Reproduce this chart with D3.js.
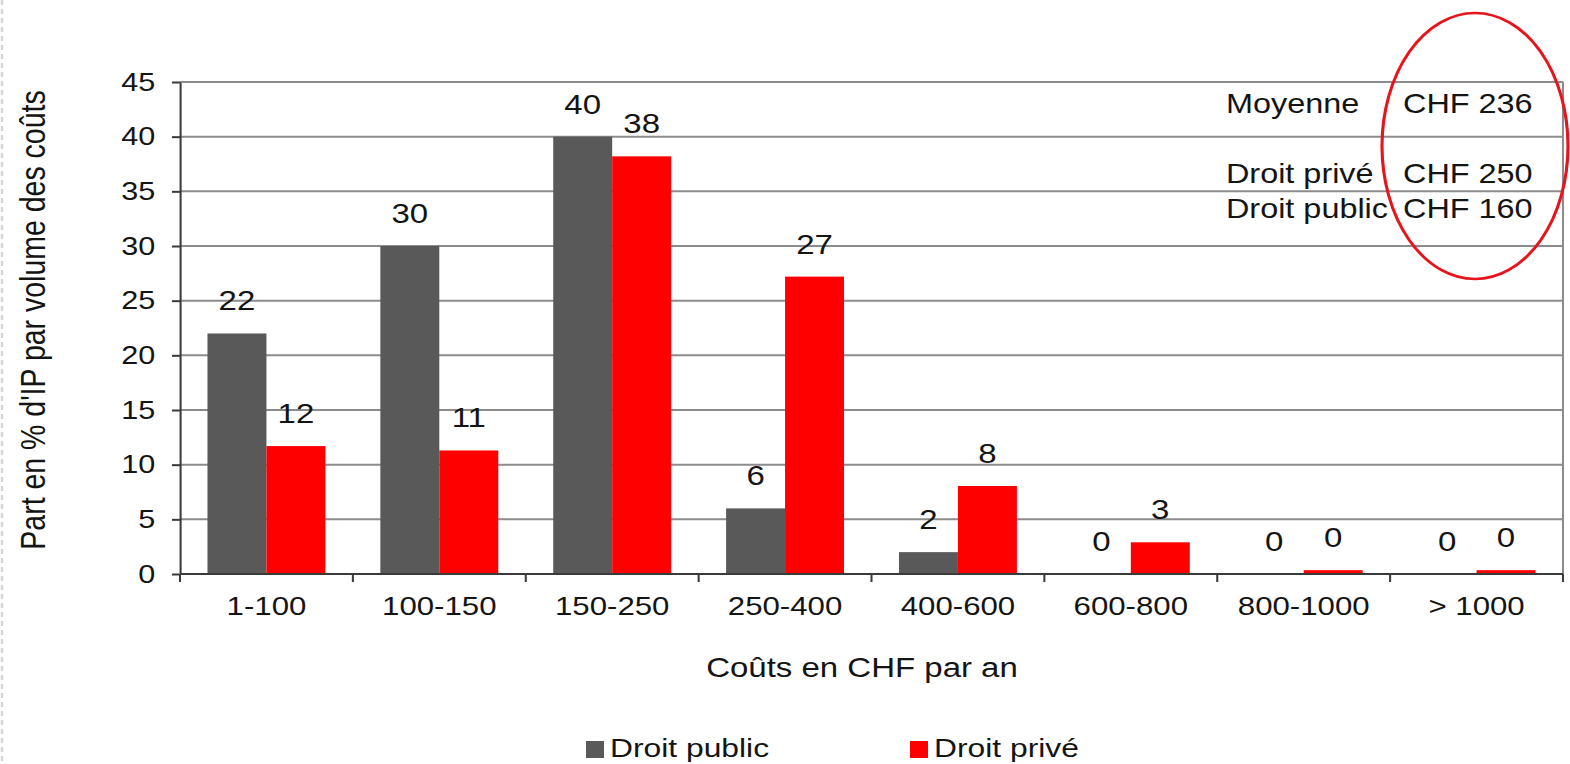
<!DOCTYPE html>
<html>
<head>
<meta charset="utf-8">
<script src="https://cdn.jsdelivr.net/npm/d3@7"></script>
<style>
  html, body { margin: 0; padding: 0; background: #fff; }
  svg { display: block; font-family: "Liberation Sans", Arial, sans-serif; }
</style>
</head>
<body>
<svg id="chart"></svg>
<script>
// Cost classes (CHF per year)
const categories = ["1-100", "100-150", "150-250", "250-400", "400-600", "600-800", "800-1000", "> 1000"];
const series = ["Droit public", "Droit privé"];
// Share of IP per cost class, in %
const publicValues = [22, 30, 40, 6, 2, 0, 0, 0];
const privateValues = [11.7, 11.3, 38.2, 27.2, 8.05, 2.9, 0.35, 0.35];
const yTicks = [0, 5, 10, 15, 20, 25, 30, 35, 40, 45];
// Average cost summary
const summaryLabels = ["Moyenne", "Droit privé", "Droit public"];
const summaryValues = ["CHF 236", "CHF 250", "CHF 160"];
const seriesColors = ["#595959", "#ff0000"];

const WIDTH = 1570, HEIGHT = 764;
const SX = 1.2;                      // horizontal stretch of the whole drawing
const sx = v => v / SX;              // screen x -> drawing x
const INNER_W = WIDTH / SX;

const svg = d3.select("#chart")
  .attr("width", WIDTH)
  .attr("height", HEIGHT)
  .attr("viewBox", `0 0 ${INNER_W} ${HEIGHT}`)
  .attr("preserveAspectRatio", "none");

const textColor = "#141414";
const plot = { left: sx(180), right: sx(1563), top: 82, bottom: 574 };

const y = d3.scaleLinear().domain([0, 45]).range([plot.bottom, plot.top]);
const x0 = d3.scaleBand().domain(categories).range([plot.left, plot.right]).padding(0);
const x1 = d3.scaleBand().domain(series).range([0, x0.bandwidth()]).paddingInner(0).paddingOuter(0.466);

// page edge marker
svg.append("line")
  .attr("x1", sx(2)).attr("x2", sx(2)).attr("y1", 0).attr("y2", HEIGHT)
  .attr("stroke", "#d6d6d6").attr("stroke-width", 2).attr("stroke-dasharray", "5,4");

// horizontal gridlines
svg.append("g").selectAll("line")
  .data(yTicks.filter(t => t > 0))
  .join("line")
  .attr("x1", plot.left).attr("x2", plot.right)
  .attr("y1", d => y(d)).attr("y2", d => y(d))
  .attr("stroke", "#8c8c8c").attr("stroke-width", 2);

// right border of plot area
svg.append("line")
  .attr("x1", plot.right).attr("x2", plot.right)
  .attr("y1", plot.top).attr("y2", plot.bottom)
  .attr("stroke", "#8c8c8c").attr("stroke-width", 1.7);

// bars
const rows = categories.map((c, i) => ({ cat: c, values: [publicValues[i], privateValues[i]] }));
const groups = svg.append("g").selectAll("g")
  .data(rows)
  .join("g")
  .attr("transform", d => `translate(${x0(d.cat)},0)`);

groups.selectAll("rect")
  .data(d => d.values.map((v, k) => ({ key: series[k], value: v, k })))
  .join("rect")
  .attr("x", d => x1(d.key))
  .attr("width", x1.bandwidth())
  .attr("y", d => y(d.value))
  .attr("height", d => y(0) - y(d.value))
  .attr("fill", d => seriesColors[d.k]);

// value labels
const fmt = d3.format(".0f");
groups.selectAll("text")
  .data(d => d.values.map((v, k) => ({ key: series[k], value: v })))
  .join("text")
  .attr("x", d => x1(d.key) + x1.bandwidth() / 2)
  .attr("y", d => y(d.value) - 23)
  .attr("text-anchor", "middle")
  .attr("font-size", 27.5)
  .attr("fill", textColor)
  .text(d => fmt(d.value));

// y axis
const yAxis = svg.append("g")
  .attr("transform", `translate(${plot.left},0)`)
  .call(d3.axisLeft(y).tickValues(yTicks).tickSizeInner(sx(8)).tickSizeOuter(0).tickPadding(14));
yAxis.select(".domain").attr("stroke", "#3a3a3a").attr("stroke-width", 1.7);
yAxis.selectAll(".tick line").attr("stroke", "#3a3a3a").attr("stroke-width", 2);
yAxis.selectAll(".tick text")
  .attr("font-size", 25.5).attr("fill", textColor)
  .attr("font-family", "Liberation Sans, Arial, sans-serif");

// x axis
const xAxis = svg.append("g")
  .attr("transform", `translate(0,${plot.bottom})`)
  .call(d3.axisBottom(x0).tickSize(0).tickPadding(23));
xAxis.select(".domain").remove();
xAxis.selectAll(".tick text")
  .attr("font-size", 26).attr("fill", textColor)
  .attr("font-family", "Liberation Sans, Arial, sans-serif");
svg.append("line")
  .attr("x1", plot.left).attr("x2", plot.right)
  .attr("y1", plot.bottom).attr("y2", plot.bottom)
  .attr("stroke", "#3a3a3a").attr("stroke-width", 2);
svg.append("g").selectAll("line")
  .data(d3.range(categories.length + 1))
  .join("line")
  .attr("x1", i => plot.left + i * x0.step())
  .attr("x2", i => plot.left + i * x0.step())
  .attr("y1", plot.bottom).attr("y2", plot.bottom + 8)
  .attr("stroke", "#3a3a3a").attr("stroke-width", 1.7);

// axis titles
svg.append("text")
  .attr("x", sx(862)).attr("y", 677)
  .attr("text-anchor", "middle")
  .attr("font-size", 27.5).attr("fill", textColor)
  .text("Coûts en CHF par an");

svg.append("text")
  .attr("transform", `translate(${sx(45)},${(plot.top + plot.bottom) / 2 - 8}) rotate(-90)`)
  .attr("text-anchor", "middle")
  .attr("font-size", 28.5).attr("fill", textColor)
  .text("Part en % d'IP par volume des coûts");

// legend
const legendX = [sx(586), sx(910)];
const legend = svg.append("g").selectAll("g")
  .data(series)
  .join("g")
  .attr("transform", (d, i) => `translate(${legendX[i]},0)`);
legend.append("rect")
  .attr("x", 0).attr("y", 741)
  .attr("width", sx(18)).attr("height", 17)
  .attr("fill", (d, i) => seriesColors[i]);
legend.append("text")
  .attr("x", sx(24)).attr("y", 757)
  .attr("font-size", 26.5).attr("fill", textColor)
  .text(d => d);

// summary of average costs
const summaryY = [113, 183, 218];
const summary = svg.append("g").selectAll("g")
  .data(summaryLabels)
  .join("g");
summary.append("text")
  .attr("x", sx(1226)).attr("y", (d, i) => summaryY[i])
  .attr("font-size", 27).attr("fill", textColor)
  .text(d => d);
summary.append("text")
  .attr("x", sx(1403)).attr("y", (d, i) => summaryY[i])
  .attr("font-size", 27).attr("fill", textColor)
  .text((d, i) => summaryValues[i]);

// highlight around the CHF amounts
svg.append("ellipse")
  .attr("cx", sx(1475)).attr("cy", 146)
  .attr("rx", sx(93)).attr("ry", 133)
  .attr("fill", "none")
  .attr("stroke", "#e8141b").attr("stroke-width", 2.6);
</script>
</body>
</html>
